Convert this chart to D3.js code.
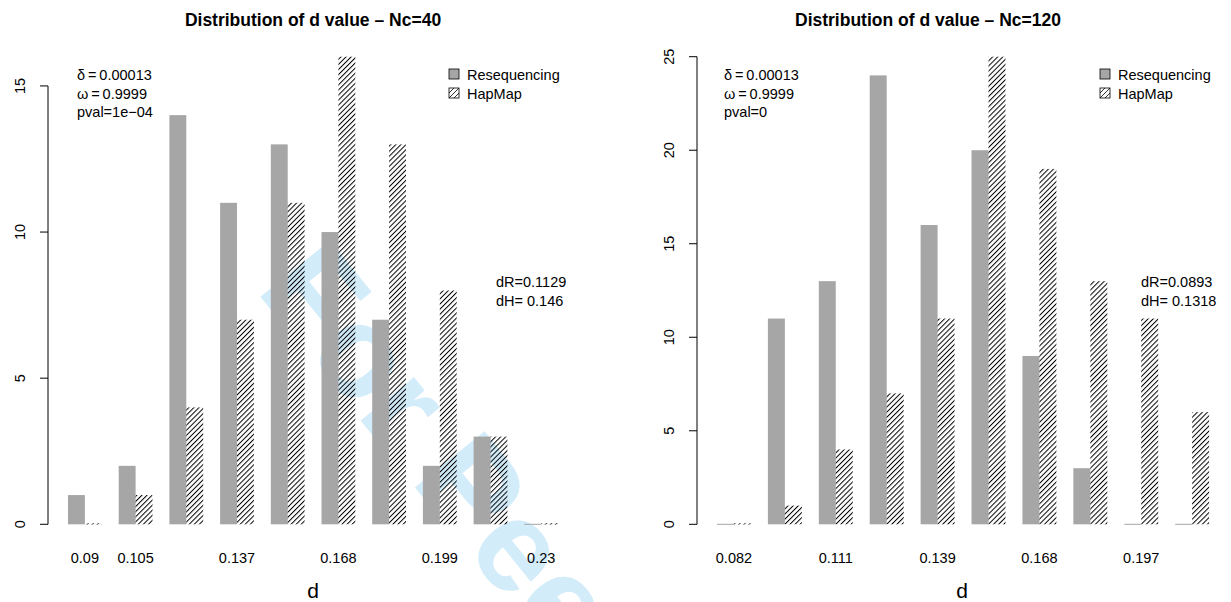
<!DOCTYPE html>
<html>
<head>
<meta charset="utf-8">
<script src="https://cdn.jsdelivr.net/npm/d3@7"></script>
<style>
  body { margin: 0; background: #fff; }
  svg { display: block; font-family: "Liberation Sans", Arial, Helvetica, sans-serif; }
</style>
</head>
<body>
<script>
/* chart data */
var reseqLeft  = [1, 2, 14, 11, 13, 10, 7, 2, 3, 0];
var hapmapLeft = [0, 1, 4, 7, 11, 16, 13, 8, 3, 0];
var ticksLeft  = ["0.09", "0.105", "", "0.137", "", "0.168", "", "0.199", "", "0.23"];
var yTicksLeft = [0, 5, 10, 15];

var reseqRight  = [0, 11, 13, 24, 16, 20, 9, 3, 0, 0];
var hapmapRight = [0, 1, 4, 7, 11, 25, 19, 13, 11, 6];
var ticksRight  = ["0.082", "", "0.111", "", "0.139", "", "0.168", "", "0.197", ""];
var yTicksRight = [0, 5, 10, 15, 20, 25];

var titles = ["Distribution of d value \u2013 Nc=40", "Distribution of d value \u2013 Nc=120"];
var statsLeft  = ["\u03b4\u2009=\u20090.00013", "\u03c9\u2009=\u20090.9999", "pval=1e\u221204"];
var statsRight = ["\u03b4\u2009=\u20090.00013", "\u03c9\u2009=\u20090.9999", "pval=0"];
var distLeft  = ["dR=0.1129", "dH= 0.146"];
var distRight = ["dR=0.0893", "dH= 0.1318"];
var legendNames = ["Resequencing", "HapMap"];

var width = 1231, height = 602;
var grey = "#a6a6a6";
var baseFont = 14.5;

var svg = d3.select("body").append("svg")
    .attr("width", width)
    .attr("height", height);

/* hatch pattern like R density lines */
var defs = svg.append("defs");
var pat = defs.append("pattern")
    .attr("id", "hatch")
    .attr("patternUnits", "userSpaceOnUse")
    .attr("width", 3.6).attr("height", 3.6)
    .attr("patternTransform", "rotate(45)");
pat.append("line")
    .attr("x1", 0.5).attr("y1", 0).attr("x2", 0.5).attr("y2", 3.6)
    .attr("stroke", "#000").attr("stroke-width", 1);

/* watermark behind everything */
svg.append("text")
    .attr("transform", "translate(255,290) rotate(51)")
    .attr("font-size", 130)
    .attr("font-weight", "bold")
    .attr("fill", "#d2ecfa")
    .text("For Peer Review");

var panels = [
  {reseq: reseqLeft, hap: hapmapLeft, ticks: ticksLeft, yTicks: yTicksLeft, ymax: 16,
   left: 48.4, unit: 16.9, axisX: 48, titleX: 313, dX: 313, statsX: 77, stats: statsLeft,
   legX: 449, distX: 496, dist: distLeft, title: titles[0]},
  {reseq: reseqRight, hap: hapmapRight, ticks: ticksRight, yTicks: yTicksRight, ymax: 25,
   left: 697.3, unit: 16.97, axisX: 697, titleX: 928, dX: 962, statsX: 724, stats: statsRight,
   legX: 1100, distX: 1141, dist: distRight, title: titles[1]}
];

var plotTop = 38, plotBottom = 543;

panels.forEach(function(p) {
  var n = p.reseq.length;
  var nUnits = 3 * n;              // two bars + one space per group
  var ext = 0.04 * (nUnits - 1);
  var x = d3.scaleLinear()
      .domain([1 - ext, nUnits + ext])
      .range([p.left, p.left + (nUnits - 1 + 2 * ext) * p.unit]);
  var yExt = 0.04 * p.ymax;
  var y = d3.scaleLinear()
      .domain([-yExt, p.ymax + yExt])
      .range([plotBottom, plotTop]);

  var g = svg.append("g");

  // grey bars
  g.selectAll(".reseq")
      .data(p.reseq)
      .enter().append("rect")
      .attr("x", function(d, i) { return x(1 + 3 * i); })
      .attr("width", function(d, i) { return x(2 + 3 * i) - x(1 + 3 * i); })
      .attr("y", function(d) { return d > 0 ? y(d) : y(0) - 0.5; })
      .attr("height", function(d) { return d > 0 ? y(0) - y(d) : 1; })
      .attr("fill", grey);

  // hatched bars
  g.selectAll(".hap")
      .data(p.hap)
      .enter().append("rect")
      .attr("x", function(d, i) { return x(2 + 3 * i); })
      .attr("width", function(d, i) { return x(3 + 3 * i) - x(2 + 3 * i); })
      .attr("y", function(d) { return d > 0 ? y(d) : y(0) - 1; })
      .attr("height", function(d) { return d > 0 ? y(0) - y(d) : 1.2; })
      .attr("fill", "url(#hatch)");

  // y axis (R style: line only from first to last tick)
  var ya = g.append("g");
  ya.append("line")
      .attr("x1", p.axisX).attr("x2", p.axisX)
      .attr("y1", y(p.yTicks[0])).attr("y2", y(p.yTicks[p.yTicks.length - 1]))
      .attr("stroke", "#000");
  ya.selectAll(".tk")
      .data(p.yTicks)
      .enter().append("line")
      .attr("x1", p.axisX - 8).attr("x2", p.axisX)
      .attr("y1", function(d) { return y(d); })
      .attr("y2", function(d) { return y(d); })
      .attr("stroke", "#000");
  ya.selectAll(".tl")
      .data(p.yTicks)
      .enter().append("text")
      .attr("transform", function(d) { return "translate(" + (p.axisX - 23) + "," + y(d) + ") rotate(-90)"; })
      .attr("text-anchor", "middle")
      .attr("font-size", baseFont)
      .text(function(d) { return d; });

  // group labels
  g.selectAll(".xl")
      .data(p.ticks)
      .enter().append("text")
      .attr("x", function(d, i) { return x(2 + 3 * i); })
      .attr("y", 563)
      .attr("text-anchor", "middle")
      .attr("font-size", baseFont)
      .text(function(d) { return d; });

  // axis title and main title
  g.append("text")
      .attr("x", p.dX).attr("y", 598)
      .attr("text-anchor", "middle")
      .attr("font-size", 21)
      .text("d");
  g.append("text")
      .attr("x", p.titleX).attr("y", 26)
      .attr("text-anchor", "middle")
      .attr("font-size", 17.5)
      .attr("font-weight", "bold")
      .text(p.title);

  // stats
  g.selectAll(".st")
      .data(p.stats)
      .enter().append("text")
      .attr("x", p.statsX)
      .attr("y", function(d, i) { return 80 + i * 18.5; })
      .attr("font-size", baseFont)
      .text(function(d) { return d; });

  g.selectAll(".ds")
      .data(p.dist)
      .enter().append("text")
      .attr("x", p.distX)
      .attr("y", function(d, i) { return 287 + i * 19; })
      .attr("font-size", baseFont)
      .text(function(d) { return d; });

  // legend
  var leg = g.selectAll(".leg")
      .data(legendNames)
      .enter().append("g")
      .attr("transform", function(d, i) { return "translate(" + p.legX + "," + (69 + i * 19) + ")"; });
  leg.append("rect")
      .attr("width", 10).attr("height", 10)
      .attr("fill", function(d, i) { return i === 0 ? grey : "#fff"; })
      .attr("stroke", "#000").attr("stroke-width", 0.8);
  leg.filter(function(d, i) { return i === 1; })
      .append("path")
      .attr("d", "M0,10L10,0M0,5L5,0M5,10L10,5")
      .attr("stroke", "#000").attr("stroke-width", 0.8);
  leg.append("text")
      .attr("x", 18).attr("y", 11)
      .attr("font-size", baseFont)
      .text(function(d) { return d; });
});
</script>
</body>
</html>
